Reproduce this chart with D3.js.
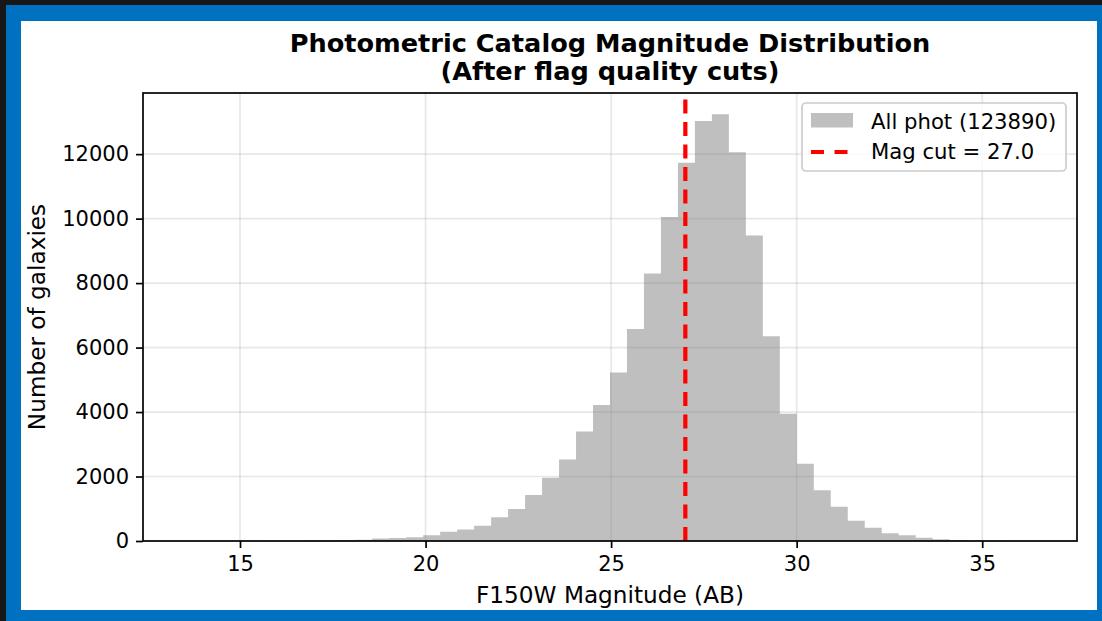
<!DOCTYPE html>
<html>
<head>
<meta charset="utf-8">
<script src="https://cdn.jsdelivr.net/npm/d3@7"></script>
<style>
  html, body { margin: 0; padding: 0; background: #171717; }
  svg { display: block; }
  text { font-family: "DejaVu Sans", sans-serif; fill: #000; }
</style>
</head>
<body>
<svg id="chart" width="1102" height="621"></svg>
<script>
// Histogram of F150W magnitudes: 50 equal bins between the faintest/brightest sources
const magMin = 13.53;
const magMax = 36.41;
const binCount = 50;
const binCounts = [
  1, 0, 1, 2, 3, 5, 8, 12, 18, 25,
  40, 75, 90, 115, 180, 290, 360, 475, 735, 990,
  1425, 1960, 2530, 3395, 4215, 5230, 6580, 8300, 10050, 11735,
  13030, 13235, 12055, 9480, 6350, 3950, 2400, 1575, 1060, 630,
  410, 240, 175, 100, 55, 30, 10, 5, 2, 1
];
const magCut = 27.0;
const totalSources = 123890;
const xTicks = [15, 20, 25, 30, 35];
const yTicks = [0, 2000, 4000, 6000, 8000, 10000, 12000];
const titleLines = ["Photometric Catalog Magnitude Distribution", "(After flag quality cuts)"];
const xLabel = "F150W Magnitude (AB)";
const yLabel = "Number of galaxies";
const legendLabels = [`All phot (${totalSources})`, `Mag cut = ${magCut.toFixed(1)}`];

const svg = d3.select("#chart");

// framed card
svg.append("rect").attr("x", 6).attr("y", 5).attr("width", 1096).attr("height", 616).attr("fill", "#0070c0");
svg.append("rect").attr("x", 21).attr("y", 21).attr("width", 1076).attr("height", 589).attr("fill", "#ffffff");

const plot = { left: 143, top: 93, right: 1077, bottom: 541 };

const binWidth = (magMax - magMin) / binCount;
const bins = binCounts.map((c, i) => ({ x0: magMin + i * binWidth, x1: magMin + (i + 1) * binWidth, count: c }));

const xPad = 0.05 * (magMax - magMin);
const x = d3.scaleLinear().domain([magMin - xPad, magMax + xPad]).range([plot.left, plot.right]);
const y = d3.scaleLinear().domain([0, d3.max(binCounts) * 1.05]).range([plot.bottom, plot.top]);

// grid
const grid = svg.append("g").attr("stroke", "#b0b0b0").attr("stroke-opacity", 0.3).attr("stroke-width", 1.7);
grid.selectAll("line.vx").data(xTicks).join("line")
  .attr("x1", d => x(d)).attr("x2", d => x(d)).attr("y1", plot.top).attr("y2", plot.bottom);
grid.selectAll("line.hy").data(yTicks).join("line")
  .attr("x1", plot.left).attr("x2", plot.right).attr("y1", d => y(d)).attr("y2", d => y(d));

// bars: one stepped outline so the translucent fill has no seams between bins
const stepPoints = bins.map(b => [b.x0, b.count]).concat([[bins[bins.length - 1].x1, bins[bins.length - 1].count]]);
const histArea = d3.area()
  .x(d => x(d[0]))
  .y0(y(0))
  .y1(d => y(d[1]))
  .curve(d3.curveStepAfter);
svg.append("path")
  .datum(stepPoints)
  .attr("d", histArea)
  .attr("fill", "#808080").attr("fill-opacity", 0.5);

// magnitude cut
svg.append("line")
  .attr("x1", x(magCut)).attr("x2", x(magCut))
  .attr("y1", plot.bottom).attr("y2", plot.top)
  .attr("stroke", "#ff0000").attr("stroke-width", 4.2)
  .attr("stroke-dasharray", "14,8.5");

// axes
const xAxis = d3.axisBottom(x).tickValues(xTicks).tickSize(7).tickPadding(8).tickFormat(d3.format("d"));
const yAxis = d3.axisLeft(y).tickValues(yTicks).tickSize(7).tickPadding(7).tickFormat(d3.format("d"));

const gx = svg.append("g").attr("transform", `translate(0,${plot.bottom})`).call(xAxis);
const gy = svg.append("g").attr("transform", `translate(${plot.left},0)`).call(yAxis);
[gx, gy].forEach(g => {
  g.select(".domain").remove();
  g.selectAll(".tick line").attr("stroke", "#000").attr("stroke-width", 1.7);
  g.selectAll(".tick text").attr("font-size", 21).attr("font-family", "DejaVu Sans").attr("fill", "#000");
});

// spines
svg.append("rect")
  .attr("x", plot.left).attr("y", plot.top)
  .attr("width", plot.right - plot.left).attr("height", plot.bottom - plot.top)
  .attr("fill", "none").attr("stroke", "#000").attr("stroke-width", 1.7);

// title
svg.append("g").selectAll("text").data(titleLines).join("text")
  .attr("x", (plot.left + plot.right) / 2)
  .attr("y", (d, i) => 52 + i * 28)
  .attr("text-anchor", "middle")
  .attr("font-size", 25.6).attr("font-weight", "bold")
  .text(d => d);

// axis labels
svg.append("text")
  .attr("x", (plot.left + plot.right) / 2).attr("y", 603)
  .attr("text-anchor", "middle").attr("font-size", 23.2)
  .text(xLabel);
svg.append("text")
  .attr("transform", `translate(45,${(plot.top + plot.bottom) / 2}) rotate(-90)`)
  .attr("text-anchor", "middle").attr("font-size", 23.2)
  .text(yLabel);

// legend
const legend = svg.append("g");
legend.append("rect")
  .attr("x", 802).attr("y", 103).attr("width", 264).attr("height", 68)
  .attr("rx", 4).attr("fill", "#ffffff").attr("fill-opacity", 0.8)
  .attr("stroke", "#cccccc").attr("stroke-width", 1.7);
legend.append("rect")
  .attr("x", 811).attr("y", 113).attr("width", 42).attr("height", 14.5)
  .attr("fill", "#808080").attr("fill-opacity", 0.5);
legend.append("line")
  .attr("x1", 811).attr("x2", 853).attr("y1", 152).attr("y2", 152)
  .attr("stroke", "#ff0000").attr("stroke-width", 4.2)
  .attr("stroke-dasharray", "13,10.5");
legend.selectAll("text.lab").data(legendLabels).join("text")
  .attr("x", 871).attr("y", (d, i) => 129 + i * 30)
  .attr("font-size", 21.2)
  .text(d => d);
</script>
</body>
</html>
